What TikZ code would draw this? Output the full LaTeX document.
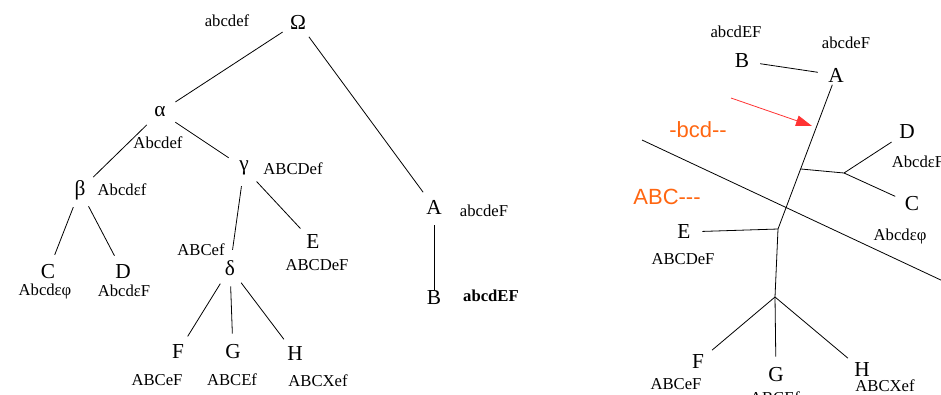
\documentclass[tikz,border=0pt]{standalone}
\usepackage{fontspec}
\setmainfont{Liberation Serif}
\newfontfamily\cutfont{Liberation Sans}
\usetikzlibrary{arrows.meta}
\definecolor{cutorange}{RGB}{255,102,17}
\definecolor{arrowred}{RGB}{255,51,51}

\begin{document}
\begin{tikzpicture}[x=0.75pt, y=-0.75pt, line width=0.6pt,
    vertex/.style={circle, inner sep=0pt, minimum size=27pt, font=\fontsize{16}{18}\selectfont},
    tag/.style={inner sep=0pt, font=\fontsize{12.5}{14}\selectfont},
    cut/.style={inner sep=0pt, text=cutorange, font=\cutfont\fontsize{16.5}{18}\selectfont}]
      \clip (0,0) rectangle (941,394);

      % rooted tree
      \node[vertex] (Om) at (298,22) {Ω};
      \node[vertex] (al) at (160,112) {α};
      \node[vertex] (be) at (80,190) {β};
      \node[vertex] (ga) at (244,168) {γ};
      \node[vertex] (C1) at (48,272) {C};
      \node[vertex] (D1) at (123,272) {D};
      \node[vertex] (de) at (230,268) {δ};
      \node[vertex] (E1) at (313,242) {E};
      \node[vertex] (F1) at (178,352) {F};
      \node[vertex] (G1) at (233,352) {G};
      \node[vertex] (H1) at (295,354) {H};
      \node[vertex] (A1) at (434,207) {A};
      \node[vertex] (B1) at (434,298) {B};

      \node[tag] (Om-t) at (227,21) {abcdef};
      \node[tag] (al-t) at (158,143) {Abcdef};
      \node[tag] (be-t) at (122,190) {Abcdεf};
      \node[tag] (ga-t) at (293,169) {ABCDef};
      \node[tag] (C1-t) at (45,291) {Abcdεφ};
      \node[tag] (D1-t) at (124,291) {AbcdεF};
      \node[tag] (de-t) at (201,250) {ABCef};
      \node[tag] (E1-t) at (317,265) {ABCDeF};
      \node[tag] (F1-t) at (157,380) {ABCeF};
      \node[tag] (G1-t) at (232,380) {ABCEf};
      \node[tag] (H1-t) at (318,381) {ABCXef};
      \node[tag] (A1-t) at (484,211) {abcdeF};
      \node[tag] (B1-t) at (491,296) {\bfseries abcdEF};

      \draw (Om) -- (al);
      \draw (Om) -- (A1);
      \draw (al) -- (be);
      \draw (al) -- (ga);
      \draw (be) -- (C1);
      \draw (be) -- (D1);
      \draw (ga) -- (de);
      \draw (ga) -- (E1);
      \draw (de) -- (F1);
      \draw (de) -- (G1);
      \draw (de) -- (H1);
      \draw[shorten >=-7.5pt] (A1) -- (B1);

      % unrooted tree
      \node[vertex] (B2) at (742,61) {B};
      \node[vertex] (A2) at (836,75) {A};
      \node[vertex] (D2) at (907,132) {D};
      \node[vertex] (C2) at (912,204) {C};
      \node[vertex] (E2) at (684,232) {E};
      \node[vertex] (F2) at (698,362) {F};
      \node[vertex] (G2) at (776,375) {G};
      \node[vertex] (H2) at (862,370) {H};
      \coordinate (j1) at (801,169);
      \coordinate (j2) at (844,173);
      \coordinate (j3) at (778,229);
      \coordinate (j4) at (775,297);

      \node[tag] (B2-t) at (736,32) {abcdEF};
      \node[tag] (A2-t) at (846,43) {abcdeF};
      \node[tag] (D2-t) at (918,162) {AbcdεF};
      \node[tag] (C2-t) at (900,236) {Abcdεφ};
      \node[tag] (E2-t) at (683,259) {ABCDeF};
      \node[tag] (F2-t) at (676,384) {ABCeF};
      \node[tag] (G2-t) at (775,398) {ABCEf};
      \node[tag] (H2-t) at (885,386) {ABCXef};

      \draw (B2) -- (A2);
      \draw[shorten <=-6pt] (A2) -- (j3);
      \draw (j1) -- (j2);
      \draw (j2) -- (D2);
      \draw (j2) -- (C2);
      \draw (E2) -- (j3);
      \draw (j3) -- (j4);
      \draw (j4) -- (F2);
      \draw (j4) -- (G2);
      \draw (j4) -- (H2);

      % split
      \coordinate (s1) at (642,140);
      \coordinate (s2) at (960,289);
      \draw (s1) -- (s2);
      \node[cut] (cut1) at (698,130) {-bcd-{}-};
      \node[cut] (cut2) at (667,197) {ABC-{}-{}-};

      \coordinate (r1) at (731,98);
      \coordinate (r2) at (812,126);
      \draw[arrowred, -{Triangle[length=12pt, width=8pt]}] (r1) -- (r2);
\end{tikzpicture}
\end{document}
